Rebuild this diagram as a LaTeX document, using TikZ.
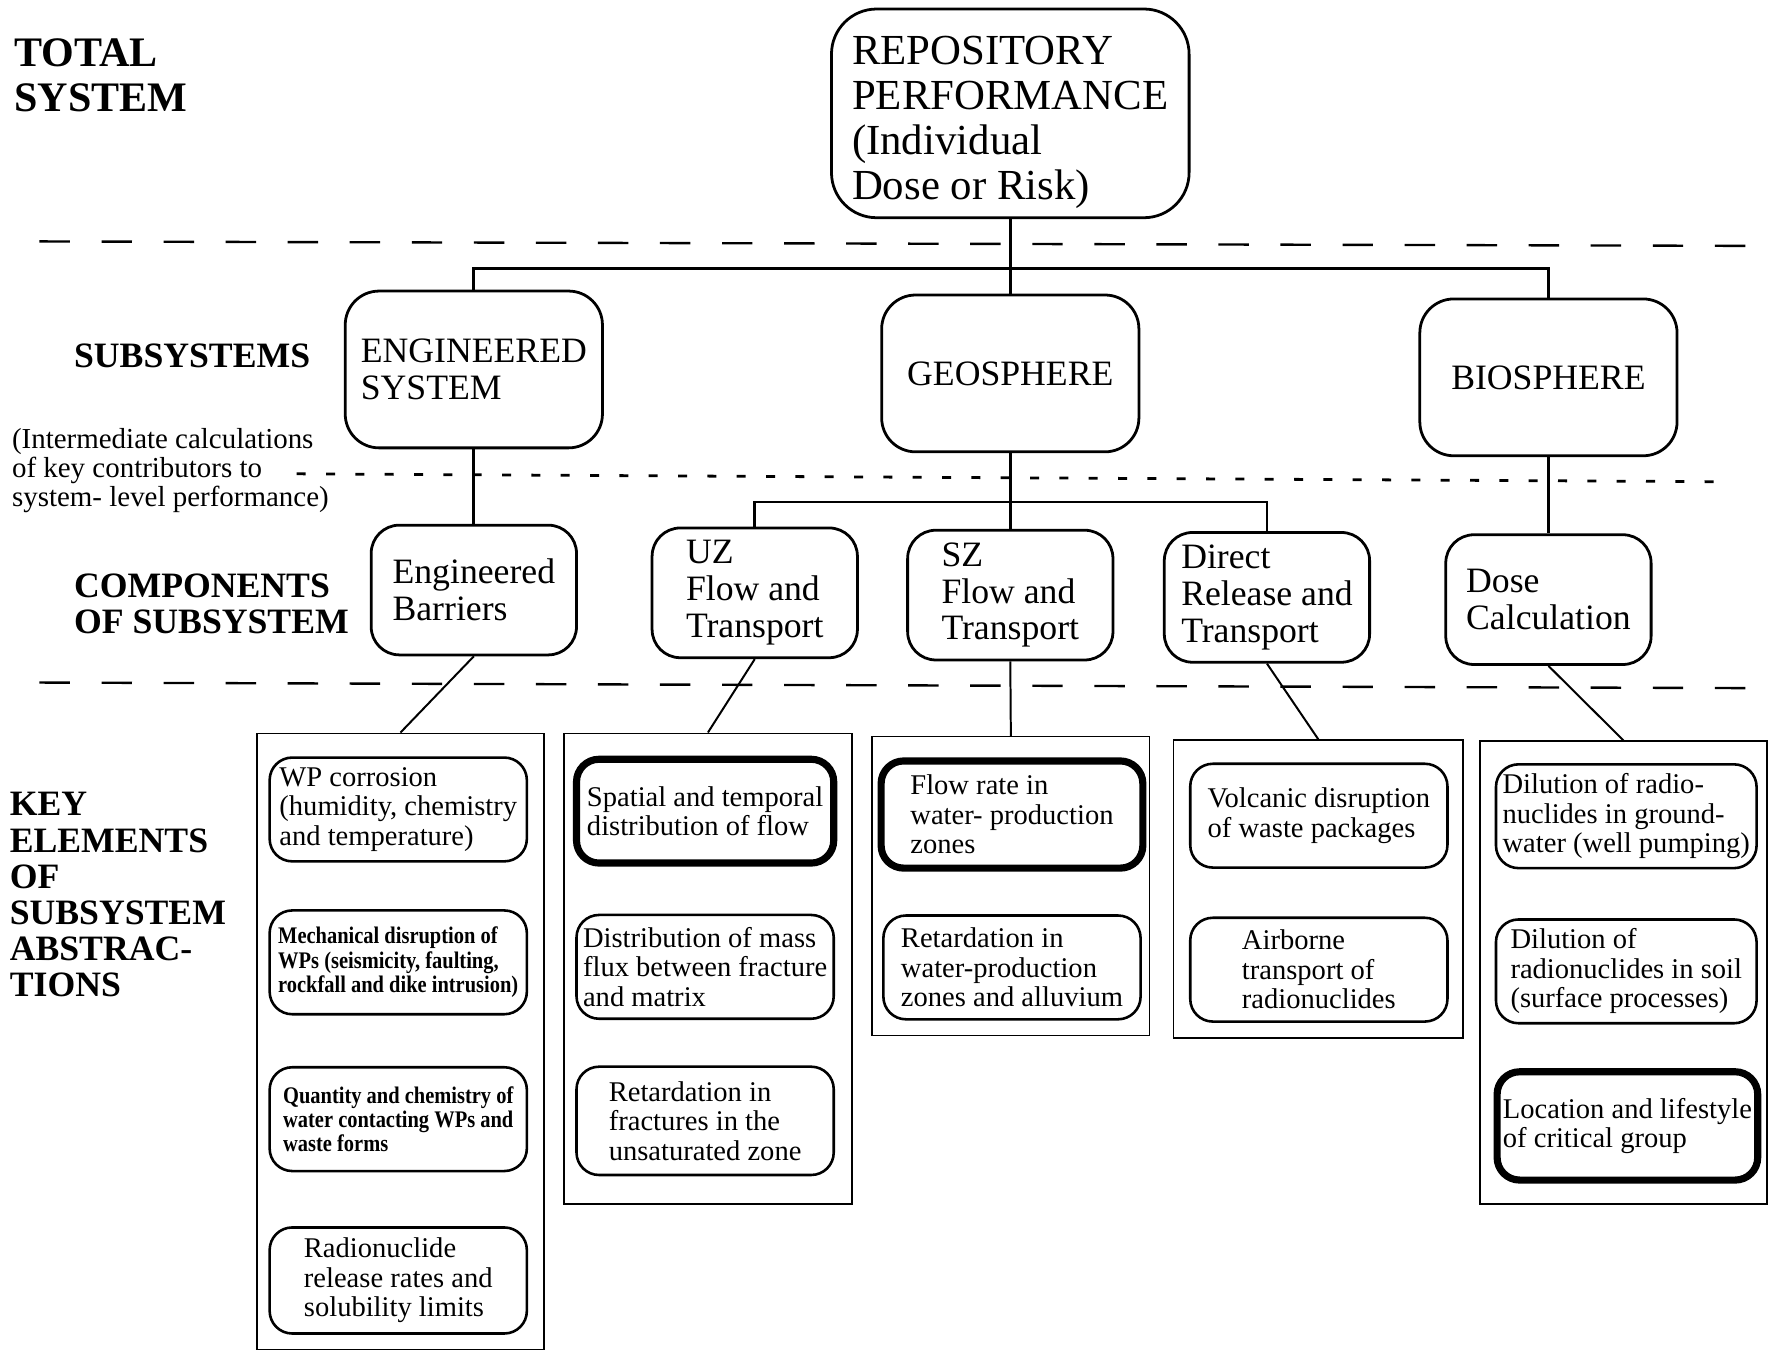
\documentclass[tikz,border=0pt]{standalone}
\usepackage{fontspec}
\setmainfont{Liberation Serif}
\newfontfamily\narrowfont{Liberation Serif}[FakeStretch=0.86]
\usepackage{tikz}

\tikzset{
  box/.style={draw, align=left, inner sep=0pt, line width=0.7pt},
  repbox/.style={box, rounded corners=4mm, minimum width=31.7mm, minimum height=18.5mm, text height=45.9pt, font=\fontsize{10.8}{11.4}\selectfont},
  subbox/.style={box, rounded corners=3mm, minimum width=22.8mm, minimum height=13.9mm, font=\fontsize{9}{9.4}\selectfont},
  compbox/.style={box, rounded corners=2.5mm, minimum width=18.2mm, minimum height=11.5mm, font=\fontsize{9}{9.3}\selectfont},
  colbox/.style={draw, line width=0.4pt, inner sep=0pt},
  elem/.style={box, rounded corners=2mm, minimum width=22.8mm, minimum height=9.2mm, line width=0.65pt, font=\fontsize{7.2}{7.45}\selectfont},
  keyelem/.style={elem, line width=1.8pt},
  smallelem/.style={elem, font=\narrowfont\bfseries\fontsize{6}{6.1}\selectfont},
  link/.style={line width=0.7pt},
  tie/.style={line width=0.5pt},
  bandline/.style={line width=0.6pt, dash pattern=on 2.7mm off 2.8mm},
  dotline/.style={line width=0.7pt, dash pattern=on 0.8mm off 1.8mm},
  rowlabel/.style={anchor=west, align=left, inner sep=0pt, font=\bfseries\fontsize{9}{9.1}\selectfont},
}

\begin{document}
\begin{tikzpicture}[x=0.1mm, y=-0.1mm]
  \useasboundingbox (0,0) rectangle (1568,1198);

  % Level separators
  \draw[bandline] (35,214) -- (1568,218);
  \draw[dotline] (263,420) -- (1525,427);
  \draw[bandline] (35,605) -- (1568,610);

  % Row labels
  \node[rowlabel, font=\bfseries\fontsize{10.6}{11.4}\selectfont] (total) at (12,67) {TOTAL\\SYSTEM};
  \node[rowlabel] (subs) at (65,315) {SUBSYSTEMS};
  \node[rowlabel, font=\fontsize{7.3}{7.4}\selectfont] (interm) at (10,417) {(Intermediate calculations\\of key contributors to\\system- level performance)};
  \node[rowlabel] (comps) at (65,535.5) {COMPONENTS\\OF SUBSYSTEM};
  \node[rowlabel] (keys) at (8,793) {KEY\\ELEMENTS\\OF\\SUBSYSTEM\\ABSTRAC-\\TIONS};

  % Total system
  \node[repbox] (rep) at (895.5,100.5) {REPOSITORY\\PERFORMANCE\\(Individual\\Dose or Risk)};

  % Subsystems
  \node[subbox] (eng) at (420,327.5) {ENGINEERED\\SYSTEM};
  \node[subbox] (geo) at (895.5,331) {GEOSPHERE};
  \node[subbox] (bio) at (1372.5,334.5) {BIOSPHERE};

  % Components of subsystem
  \node[compbox] (eb) at (420,523) {Engineered\\Barriers};
  \node[compbox] (uz) at (669,525.5) {UZ\\Flow and\\Transport};
  \node[compbox] (sz) at (895.5,527.5) {SZ\\Flow and\\Transport};
  \node[compbox] (dir) at (1123,529.5) {Direct\\Release and\\Transport};
  \node[compbox] (dose) at (1372.5,531.5) {Dose\\Calculation};

  % Columns of key elements
  \node[colbox, minimum width=25.4mm, minimum height=54.6mm] (k1) at (355,923) {};
  \node[colbox, minimum width=25.5mm, minimum height=41.7mm] (k2) at (627.5,858.5) {};
  \node[colbox, minimum width=24.6mm, minimum height=26.5mm] (k3) at (896,785.5) {};
  \node[colbox, minimum width=25.7mm, minimum height=26.4mm] (k4) at (1168.5,788) {};
  \node[colbox, minimum width=25.4mm, minimum height=41mm] (k5) at (1439,862) {};

  % Engineered barriers
  \node[elem] (corr) at (353,717.5) {WP corrosion\\(humidity, chemistry\\and temperature)};
  \node[smallelem] (mech) at (353,853) {Mechanical disruption of\\WPs (seismicity, faulting,\\rockfall and dike intrusion)};
  \node[smallelem] (water) at (353,992) {Quantity and chemistry of\\water contacting WPs and\\waste forms};
  \node[elem, minimum height=9.4mm] (release) at (353,1135) {Radionuclide\\release rates and\\solubility limits};

  % UZ flow and transport
  \node[keyelem] (spatial) at (625,719) {Spatial and temporal\\distribution of flow};
  \node[elem] (massflux) at (625,857) {Distribution of mass\\flux between fracture\\and matrix};
  \node[elem, minimum height=9.6mm] (uzretard) at (625,993.5) {Retardation in\\fractures in the\\unsaturated zone};

  % SZ flow and transport
  \node[keyelem, minimum width=23.2mm, minimum height=9.5mm] (flowrate) at (897,722) {Flow rate in\\water- production\\zones};
  \node[elem] (szretard) at (897,857.5) {Retardation in\\water-production\\zones and alluvium};

  % Direct release
  \node[elem] (volcanic) at (1169,723) {Volcanic disruption\\of waste packages};
  \node[elem] (airborne) at (1169,859.5) {Airborne\\transport of\\radionuclides};

  % Dose calculation
  \node[elem, minimum width=23.1mm] (gwdilute) at (1441.5,723.5) {Dilution of radio-\\nuclides in ground-\\water (well pumping)};
  \node[elem, minimum width=23.1mm] (soildilute) at (1441.5,861) {Dilution of\\radionuclides in soil\\(surface processes)};
  \node[keyelem, minimum width=23.1mm, minimum height=9.6mm] (critical) at (1442.5,998) {Location and lifestyle\\of critical group};

  % Tree connectors
  \coordinate (bus1) at (895.5,238);
  \coordinate (bus2) at (895.5,445);
  \draw[link] (rep.south) -- (geo.north);
  \draw[link] (eng.north) |- (bus1) -| (bio.north);
  \draw[link] (eng.south) -- (eb.north);
  \draw[link] (geo.south) -- (sz.north);
  \draw[link] (uz.north) |- (bus2) -| (dir.north);
  \draw[link] (bio.south) -- (dose.north);

  % Components to their key elements
  \draw[tie] (eb.south) -- (k1.north);
  \draw[tie] (uz.south) -- (k2.north);
  \draw[tie] (sz.south) -- (k3.north);
  \draw[tie] (dir.south) -- (k4.north);
  \draw[tie] (dose.south) -- (k5.north);
\end{tikzpicture}
\end{document}
